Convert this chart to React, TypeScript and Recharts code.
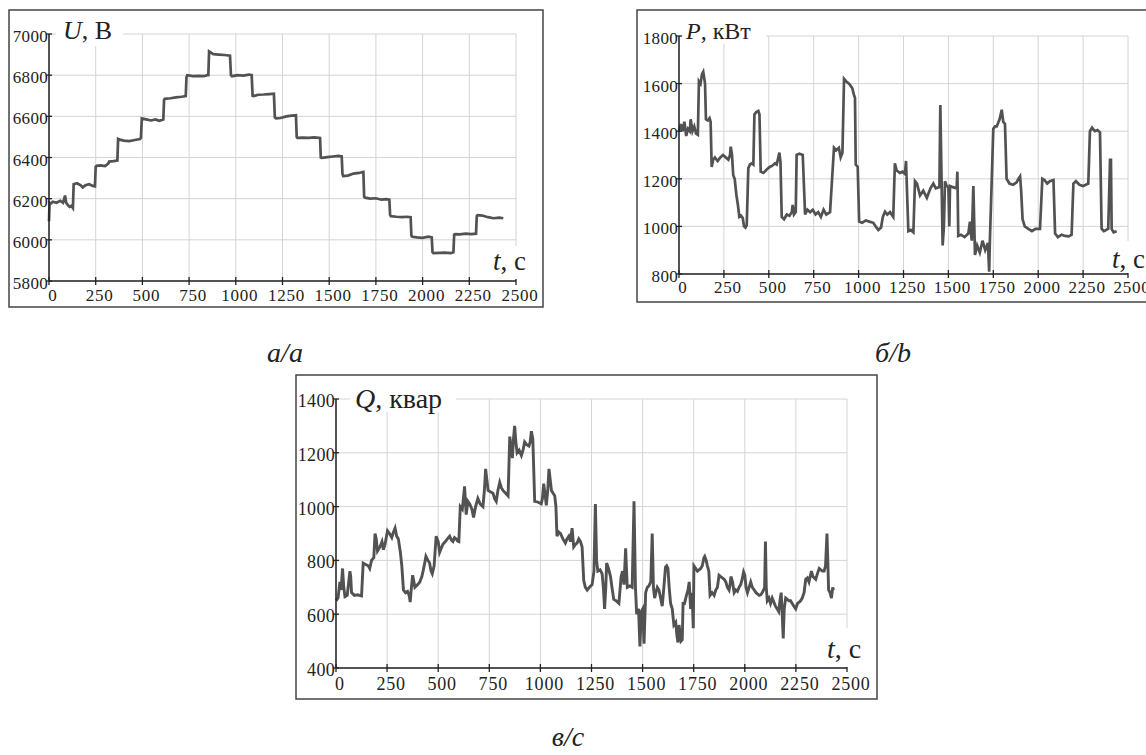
import React from 'react';
import { LineChart, Line, XAxis, YAxis, CartesianGrid } from 'recharts';

// time axis, seconds
const timeTicks = [0, 250, 500, 750, 1000, 1250, 1500, 1750, 2000, 2250, 2500];
const uTicks = [5800, 6000, 6200, 6400, 6600, 6800, 7000];
const pTicks = [800, 1000, 1200, 1400, 1600, 1800];
const qTicks = [400, 600, 800, 1000, 1200, 1400];

// U, V  [t, value]
const voltage: [number, number][] = [
  [0, 6090], [3, 6180], [8, 6175], [20, 6185], [40, 6180], [60, 6190], [75, 6180], [86, 6215], [92, 6180],
  [100, 6170], [110, 6160], [120, 6165], [128, 6155], [132, 6270], [150, 6275], [170, 6265], [180, 6255],
  [195, 6265], [215, 6270], [235, 6262], [246, 6260], [250, 6355], [255, 6360], [275, 6362], [300, 6358],
  [317, 6370], [322, 6380], [345, 6382], [366, 6385], [370, 6490], [374, 6488], [400, 6482], [430, 6480],
  [460, 6485], [487, 6490], [492, 6495], [497, 6590], [520, 6585], [545, 6580], [570, 6585], [590, 6578],
  [612, 6585], [616, 6680], [620, 6685], [650, 6688], [680, 6692], [710, 6695], [732, 6698], [736, 6790],
  [740, 6800], [770, 6795], [800, 6797], [830, 6795], [847, 6800], [853, 6800], [857, 6915], [880, 6902],
  [910, 6900], [940, 6898], [969, 6895], [974, 6800], [980, 6795], [1010, 6800], [1040, 6798], [1070, 6803],
  [1085, 6800], [1090, 6700], [1095, 6698], [1120, 6705], [1150, 6706], [1180, 6708], [1204, 6710],
  [1209, 6595], [1215, 6590], [1240, 6592], [1270, 6600], [1300, 6603], [1322, 6605], [1326, 6500],
  [1330, 6495], [1360, 6497], [1390, 6495], [1420, 6498], [1451, 6495], [1455, 6400], [1460, 6398],
  [1490, 6402], [1520, 6405], [1550, 6408], [1567, 6405], [1571, 6320], [1575, 6310], [1600, 6312],
  [1630, 6322], [1660, 6325], [1683, 6330], [1687, 6210], [1692, 6205], [1720, 6200], [1750, 6202],
  [1780, 6195], [1805, 6198], [1822, 6195], [1826, 6120], [1830, 6115], [1860, 6112], [1890, 6110],
  [1915, 6112], [1936, 6110], [1940, 6020], [1945, 6015], [1970, 6012], [2000, 6010], [2030, 6015],
  [2049, 6012], [2053, 5940], [2058, 5935], [2090, 5937], [2120, 5938], [2150, 5935], [2165, 5940],
  [2169, 6025], [2175, 6028], [2200, 6027], [2230, 6030], [2260, 6028], [2286, 6030], [2290, 6115],
  [2295, 6120], [2320, 6118], [2350, 6110], [2380, 6105], [2410, 6108], [2432, 6105],
];

// P, kW
const activePower: [number, number][] = [
  [0, 1400], [10, 1430], [20, 1400], [30, 1440], [40, 1380], [50, 1410], [60, 1400], [65, 1450], [75, 1400],
  [85, 1420], [95, 1390], [105, 1385], [111, 1610], [120, 1600], [128, 1640], [135, 1650], [145, 1600],
  [150, 1450], [160, 1445], [170, 1455], [176, 1440], [182, 1250], [190, 1280], [200, 1290], [215, 1275],
  [230, 1290], [245, 1300], [260, 1290], [275, 1280], [284, 1300], [288, 1335], [295, 1300], [302, 1215],
  [310, 1200], [320, 1130], [328, 1090], [336, 1040], [345, 1045], [355, 1035], [362, 1000], [370, 995],
  [377, 1005], [386, 1245], [395, 1260], [405, 1265], [414, 1260], [420, 1470], [430, 1480], [442, 1485],
  [448, 1470], [455, 1230], [470, 1225], [490, 1240], [505, 1250], [520, 1255], [535, 1265], [544, 1260],
  [559, 1310], [565, 1270], [572, 1040], [585, 1030], [600, 1050], [615, 1045], [628, 1060], [633, 1090],
  [640, 1050], [650, 1060], [655, 1300], [670, 1305], [689, 1300], [702, 1050], [715, 1070], [730, 1060],
  [745, 1070], [760, 1050], [775, 1060], [790, 1040], [805, 1070], [820, 1050], [841, 1060], [863, 1330],
  [875, 1320], [890, 1330], [900, 1290], [910, 1310], [919, 1620], [930, 1610], [945, 1600], [952, 1595],
  [965, 1580], [975, 1550], [980, 1540], [984, 1260], [995, 1250], [1003, 1020], [1020, 1015], [1040, 1025],
  [1060, 1020], [1082, 1015], [1095, 1000], [1110, 985], [1125, 995], [1135, 1040], [1147, 1062],
  [1160, 1050], [1175, 1060], [1193, 1040], [1202, 1265], [1212, 1235], [1230, 1225], [1245, 1230],
  [1258, 1220], [1264, 1275], [1277, 980], [1290, 985], [1305, 975], [1314, 1190], [1325, 1180],
  [1342, 1130], [1360, 1150], [1380, 1120], [1400, 1160], [1416, 1180], [1430, 1160], [1450, 1165],
  [1455, 1510], [1468, 920], [1475, 1000], [1481, 1190], [1490, 1170], [1500, 1165], [1505, 1000],
  [1509, 1170], [1525, 1165], [1546, 1160], [1550, 1230], [1555, 960], [1570, 965], [1590, 955],
  [1611, 970], [1620, 1020], [1630, 940], [1639, 1170], [1648, 880], [1660, 920], [1675, 890], [1690, 940],
  [1705, 900], [1720, 930], [1727, 810], [1731, 940], [1750, 1410], [1760, 1420], [1769, 1420],
  [1785, 1450], [1797, 1490], [1805, 1440], [1815, 1430], [1824, 1200], [1840, 1180], [1860, 1175],
  [1880, 1185], [1890, 1200], [1899, 1210], [1905, 1150], [1913, 1030], [1925, 1000], [1945, 990],
  [1965, 980], [1985, 990], [2010, 990], [2023, 1200], [2035, 1195], [2050, 1180], [2065, 1190],
  [2085, 1195], [2094, 970], [2110, 955], [2130, 965], [2150, 960], [2170, 958], [2186, 965], [2196, 1180],
  [2210, 1190], [2230, 1175], [2250, 1170], [2265, 1175], [2279, 1180], [2288, 1400], [2300, 1415],
  [2315, 1400], [2330, 1405], [2344, 1395], [2353, 990], [2365, 980], [2378, 985], [2390, 990],
  [2400, 1280], [2405, 1280], [2409, 990], [2420, 975], [2437, 980],
];

// Q, kvar
const reactivePower: [number, number][] = [
  [0, 650], [10, 660], [19, 720], [25, 690], [32, 770], [38, 700], [44, 665], [55, 670], [68, 760], [72, 740],
  [76, 680], [90, 670], [105, 672], [125, 668], [133, 790], [145, 785], [158, 780], [165, 770], [174, 800],
  [185, 810], [191, 900], [197, 880], [203, 835], [215, 850], [225, 870], [232, 840], [240, 860], [252, 910],
  [262, 900], [273, 885], [281, 905], [289, 920], [297, 890], [305, 880], [315, 830], [322, 780], [330, 690],
  [340, 680], [350, 685], [358, 670], [363, 645], [368, 690], [375, 745], [386, 700], [400, 710], [410, 720],
  [420, 740], [426, 760], [434, 790], [440, 815], [450, 800], [458, 790], [465, 760], [471, 750], [480, 780],
  [490, 890], [500, 870], [507, 830], [515, 845], [523, 860], [535, 870], [545, 880], [556, 890], [565, 875],
  [572, 870], [580, 885], [588, 880], [595, 872], [601, 870], [608, 1000], [618, 990], [629, 1075],
  [637, 970], [645, 1020], [654, 1010], [665, 990], [673, 960], [683, 1000], [694, 1030], [705, 1010],
  [719, 1000], [726, 1060], [732, 1140], [738, 1100], [744, 1060], [755, 1055], [768, 1050], [776, 1030],
  [784, 1020], [792, 1060], [801, 1090], [809, 1070], [817, 1060], [830, 1050], [842, 1040], [850, 1260],
  [857, 1220], [863, 1180], [868, 1250], [874, 1300], [880, 1240], [886, 1200], [896, 1210], [907, 1190],
  [915, 1210], [923, 1240], [933, 1230], [944, 1225], [950, 1240], [956, 1280], [963, 1250], [972, 1020],
  [985, 1018], [1004, 1010], [1010, 1030], [1016, 1085], [1022, 1050], [1029, 1005], [1036, 1060],
  [1042, 1140], [1048, 1100], [1054, 1060], [1062, 1050], [1070, 1040], [1076, 1000], [1081, 890],
  [1090, 905], [1098, 900], [1110, 880], [1122, 865], [1130, 880], [1139, 890], [1147, 870], [1155, 920],
  [1163, 850], [1172, 860], [1180, 865], [1188, 880], [1196, 870], [1204, 850], [1212, 725], [1220, 700],
  [1229, 690], [1240, 700], [1253, 710], [1262, 760], [1269, 1010], [1275, 800], [1281, 760], [1292, 765],
  [1302, 750], [1308, 700], [1314, 620], [1320, 700], [1324, 790], [1333, 770], [1343, 740], [1350, 700],
  [1359, 655], [1370, 650], [1384, 640], [1395, 740], [1402, 760], [1409, 710], [1417, 845], [1425, 700],
  [1437, 705], [1449, 700], [1458, 1020], [1465, 700], [1471, 600], [1480, 620], [1487, 480], [1494, 610],
  [1501, 620], [1507, 490], [1515, 680], [1523, 700], [1531, 705], [1540, 720], [1547, 900], [1553, 700],
  [1559, 660], [1565, 680], [1572, 700], [1580, 690], [1588, 660], [1596, 630], [1604, 700], [1612, 775],
  [1618, 780], [1624, 770], [1630, 700], [1637, 640], [1645, 620], [1653, 560], [1662, 570], [1668, 520],
  [1673, 495], [1678, 560], [1682, 540], [1688, 500], [1694, 505], [1698, 640], [1705, 640], [1713, 665],
  [1722, 690], [1728, 720], [1735, 620], [1742, 680], [1748, 548], [1751, 780], [1760, 770], [1768, 760],
  [1776, 765], [1784, 770], [1792, 780], [1800, 810], [1804, 815], [1811, 800], [1817, 780], [1824, 760],
  [1830, 670], [1840, 680], [1850, 670], [1858, 690], [1866, 700], [1874, 745], [1882, 740], [1890, 735],
  [1899, 730], [1907, 720], [1915, 700], [1923, 690], [1928, 710], [1932, 740], [1940, 720], [1948, 680],
  [1956, 690], [1964, 685], [1972, 700], [1980, 710], [1987, 730], [1994, 757], [2000, 745], [2006, 700],
  [2013, 680], [2021, 700], [2029, 720], [2037, 700], [2046, 690], [2055, 680], [2063, 675], [2070, 670],
  [2078, 672], [2085, 680], [2092, 690], [2097, 700], [2101, 870], [2105, 700], [2110, 650], [2118, 660],
  [2126, 640], [2134, 660], [2142, 645], [2150, 630], [2158, 620], [2166, 610], [2172, 650], [2178, 680],
  [2183, 600], [2188, 510], [2193, 620], [2200, 660], [2208, 655], [2216, 650], [2224, 650], [2232, 640],
  [2240, 630], [2249, 620], [2258, 640], [2266, 645], [2273, 650], [2281, 660], [2290, 680], [2298, 730],
  [2306, 735], [2314, 720], [2320, 740], [2326, 760], [2333, 740], [2340, 735], [2347, 730], [2355, 750],
  [2364, 770], [2372, 765], [2380, 760], [2388, 760], [2395, 780], [2402, 900], [2406, 800], [2410, 690],
  [2417, 680], [2424, 660], [2430, 700], [2434, 690],
];

const FONT = '"Liberation Serif", "Times New Roman", serif';
const INK = '#222';

const toRows = (pts: [number, number][]) => pts.map(([t, v]) => ({ t, v }));

// tick mark crosses the axis, label a bit to the right of it
const XTick = (props: any) => {
  const { x, y, payload, fs, dy } = props;
  return (
    <g>
      <line x1={x} x2={x} y1={y - 4} y2={y + 4} stroke={INK} strokeWidth={1.3} />
      <text x={x + 4} y={y + dy} textAnchor="middle" fontFamily={FONT} fontSize={fs} fill={INK} letterSpacing={0.8}>
        {payload.value}
      </text>
    </g>
  );
};

const YTick = (props: any) => {
  const { x, y, payload, fs, dy } = props;
  return (
    <g>
      <line x1={x - 3} x2={x + 3} y1={y} y2={y} stroke={INK} strokeWidth={1.3} />
      <text x={x - 1} y={y + dy} textAnchor="end" fontFamily={FONT} fontSize={fs} fill={INK} letterSpacing={0.3}>
        {payload.value}
      </text>
    </g>
  );
};

type PanelProps = {
  left: number;
  top: number;
  width: number;
  height: number;
  plotLeft: number;
  plotTop: number;
  plotRight: number;
  plotBottom: number;
  domain: [number, number];
  yTicks: number[];
  points: [number, number][];
  fs: number;
  xdy: number;
  ydy: number;
  lineWidth: number;
};

const Panel = (p: PanelProps) => (
  <div style={{ position: 'absolute', left: p.left, top: p.top }}>
    <LineChart
      width={p.width}
      height={p.height}
      data={toRows(p.points)}
      margin={{ top: p.plotTop, right: p.plotRight, left: 0, bottom: 0 }}
    >
      <CartesianGrid stroke="#d4d4d4" strokeWidth={1} />
      <XAxis
        dataKey="t"
        type="number"
        domain={[0, 2500]}
        ticks={timeTicks}
        height={p.plotBottom}
        axisLine={{ stroke: INK, strokeWidth: 1.5 }}
        tickLine={false}
        tickSize={0}
        tickMargin={0}
        interval={0}
        tick={(tp: any) => <XTick {...tp} fs={p.fs} dy={p.xdy} />}
      />
      <YAxis
        type="number"
        domain={p.domain}
        ticks={p.yTicks}
        width={p.plotLeft}
        axisLine={{ stroke: INK, strokeWidth: 1.5 }}
        tickLine={false}
        tickSize={0}
        tickMargin={0}
        interval={0}
        tick={(tp: any) => <YTick {...tp} fs={p.fs} dy={p.ydy} />}
      />
      <Line type="linear" dataKey="v" stroke="#525252" strokeWidth={p.lineWidth} dot={false} isAnimationActive={false} />
    </LineChart>
  </div>
);

const Title = ({ x, y, sym, unit, fs }: { x: number; y: number; sym: string; unit: string; fs: number }) => (
  <text x={x} y={y} fontFamily={FONT} fontSize={fs} fill={INK}>
    <tspan fontStyle="italic">{sym}</tspan>
    {', ' + unit}
  </text>
);

export default function App() {
  return (
    <div style={{ position: 'absolute', left: 0, top: 0, width: 1146, height: 755, overflow: 'hidden', background: '#fff' }}>
      {/* а: U */}
      <Panel left={9} top={10} width={534} height={297} plotLeft={40} plotTop={24} plotRight={27} plotBottom={26}
        domain={[5800, 7000]} yTicks={uTicks} points={voltage} fs={17} xdy={20} ydy={8} lineWidth={2.7} />
      {/* б: P */}
      <Panel left={637} top={10} width={523} height={292} plotLeft={42} plotTop={26} plotRight={32} plotBottom={28}
        domain={[800, 1800]} yTicks={pTicks} points={activePower} fs={17} xdy={19} ydy={8} lineWidth={2.7} />
      {/* в: Q */}
      <Panel left={296} top={375} width={581} height={324} plotLeft={40} plotTop={24} plotRight={30} plotBottom={31}
        domain={[400, 1400]} yTicks={qTicks} points={reactivePower} fs={18} xdy={22} ydy={8} lineWidth={2.9} />

      <svg width={1146} height={755} style={{ position: 'absolute', left: 0, top: 0, pointerEvents: 'none' }}>
        <rect x={9} y={10} width={534} height={297} fill="none" stroke="#444" strokeWidth={1.5} />
        <rect x={637} y={10} width={523} height={292} fill="none" stroke="#444" strokeWidth={1.5} />
        <rect x={296} y={375} width={581} height={324} fill="none" stroke="#444" strokeWidth={1.5} />

        <rect x={56} y={12} width={67} height={34} fill="#fff" />
        <rect x={683} y={12} width={83} height={32} fill="#fff" />
        <rect x={350} y={378} width={106} height={34} fill="#fff" />
        <rect x={488} y={246} width={46} height={33} fill="#fff" />
        <rect x={1106} y={241} width={40} height={32} fill="#fff" />
        <rect x={822} y={628} width={48} height={39} fill="#fff" />

        <Title x={63} y={39} sym="U" unit="В" fs={26} />
        <Title x={686} y={39} sym="P" unit="кВт" fs={24} />
        <Title x={355} y={408} sym="Q" unit="квар" fs={28} />
        <Title x={493} y={270} sym="t" unit="с" fs={27} />
        <Title x={1112} y={268} sym="t" unit="с" fs={27} />
        <Title x={827} y={658} sym="t" unit="с" fs={28} />

        <text x={285} y={362} textAnchor="middle" fontFamily={FONT} fontSize={28} fontStyle="italic" fill={INK}>а/a</text>
        <text x={893} y={362} textAnchor="middle" fontFamily={FONT} fontSize={28} fontStyle="italic" fill={INK}>б/b</text>
        <text x={568} y={746} textAnchor="middle" fontFamily={FONT} fontSize={28} fontStyle="italic" fill={INK}>в/с</text>
      </svg>
    </div>
  );
}
